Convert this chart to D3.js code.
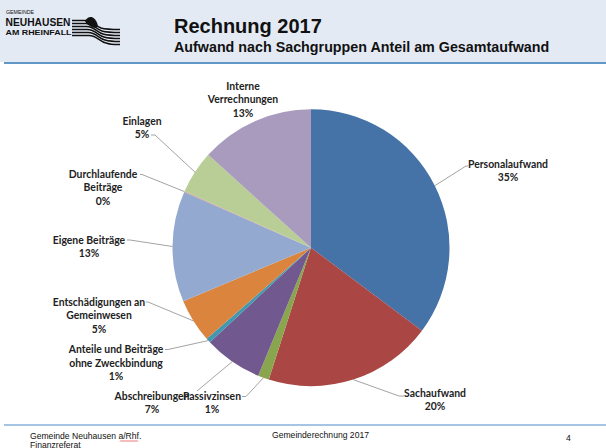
<!DOCTYPE html>
<html><head><meta charset="utf-8">
<script src="https://cdn.jsdelivr.net/npm/d3@7"></script>
<style>body{margin:0;background:#fff;overflow:hidden}</style>
</head><body>
<svg id="c" width="606" height="448"></svg>
<script>
// ---- data ----
const categories = ["Personalaufwand","Sachaufwand","Passivzinsen","Abschreibungen","Anteile und Beiträge ohne Zweckbindung","Entschädigungen an Gemeinwesen","Eigene Beiträge","Durchlaufende Beiträge","Einlagen","Interne Verrechnungen"];
const shares = [35.2,19.7,1.3,6.8,0.55,5.1,12.9,0.1,5.0,13.3];
const labelLines = [["Personalaufwand"],["Sachaufwand"],["Passivzinsen"],["Abschreibungen"],["Anteile und Beiträge","ohne Zweckbindung"],["Entschädigungen an","Gemeinwesen"],["Eigene Beiträge"],["Durchlaufende","Beiträge"],["Einlagen"],["Interne","Verrechnungen"]];
const colors = ["#4572A7","#AA4643","#89A54E","#71588F","#4198AF","#DB843D","#93A9CF","#D19392","#B9CD96","#A99BBD"];
const titleText = "Rechnung 2017";
const subtitleText = "Aufwand nach Sachgruppen Anteil am Gesamtaufwand";
const footerLeft = ["Gemeinde Neuhausen a/Rhf.","Finanzreferat"];
const footerMid = "Gemeinderechnung 2017";
const pageNo = "4";

// ---- layout (label placement, not data) ----
const labelLayout = [
  {x:508, y:164, ex:466, ey:166, tx:468},
  {x:435, y:393, ex:399, ey:396, tx:404},
  {x:212, y:396, ex:246, ey:396.5, tx:242},
  {x:152, y:396, ex:197, ey:391, tx:197},
  {x:116, y:349.5, ex:168, ey:349.5, tx:165},
  {x:99,  y:302, ex:148, ey:302, tx:146},
  {x:89,  y:240, ex:130, ey:240, tx:127},
  {x:103, y:174, ex:142, ey:174.5, tx:140},
  {x:142, y:121, ex:155, ey:135, tx:151},
  {x:243, y:86, ex:null}
];

const svg = d3.select("#c");
const W = 606, H = 448;

// header
svg.append("rect").attr("x",0).attr("y",0).attr("width",W).attr("height",62).attr("fill","#E4EAF4");
svg.append("line").attr("x1",4).attr("x2",W).attr("y1",63).attr("y2",63).attr("stroke","#2C74B5").attr("stroke-width",1.6);

// logo
const logo = svg.append("g");
const lf = "Liberation Sans, Arial";
logo.append("text").attr("x",6).attr("y",14).text("GEMEINDE")
  .attr("font-family",lf).attr("font-size",4.6).attr("fill","#111")
  .attr("textLength",28).attr("lengthAdjust","spacingAndGlyphs");
logo.append("text").attr("x",5.5).attr("y",26).text("NEUHAUSEN")
  .attr("font-family",lf).attr("font-weight","bold").attr("font-size",10.4).attr("fill","#111")
  .attr("textLength",65).attr("lengthAdjust","spacingAndGlyphs");
logo.append("text").attr("x",5.5).attr("y",34.5).text("AM RHEINFALL")
  .attr("font-family",lf).attr("font-weight","bold").attr("font-size",7.8).attr("fill","#111")
  .attr("textLength",66).attr("lengthAdjust","spacingAndGlyphs");
const stripeYs = [20.5,23.5,26.5,29.5,32.5,35.5];
stripeYs.forEach((y0,i)=>{
  const p = d3.path();
  p.moveTo(72,y0);
  p.lineTo(85+i*0.8,y0);
  p.bezierCurveTo(92+i,y0, 95+i,y0+5+i*0.3, 101+i,y0+7.5);
  p.bezierCurveTo(106+i,y0+9, 111,y0+9, 120,y0+9);
  logo.append("path").attr("d",p.toString()).attr("fill","none").attr("stroke","#111").attr("stroke-width",1.5);
});
logo.append("path").attr("d","M85,21 C87,18 89,16.5 91.5,17 C94,17.5 96,20 97.5,24 C98.5,27 96,28.5 93,27.5 C89,26 86,24 85,21 Z").attr("fill","#111");

// titles
svg.append("text").attr("x",174).attr("y",33).text(titleText)
  .attr("font-family",lf).attr("font-weight","bold").attr("font-size",20).attr("fill","#111");
svg.append("text").attr("x",174).attr("y",52).text(subtitleText)
  .attr("font-family",lf).attr("font-weight","bold").attr("font-size",14.3).attr("fill","#111");

// pie
const cx = 311, cy = 247.7, R = 138.5;
const total = d3.sum(shares);
const data = categories.map((c,i)=>({name:c, value:shares[i], i}));
const pie = d3.pie().value(d=>d.value).sort(null).startAngle(0).endAngle(2*Math.PI);
const arcs = pie(data);
const arc = d3.arc().innerRadius(0).outerRadius(R);
const edge = d3.arc().innerRadius(R).outerRadius(R);
const color = d3.scaleOrdinal().domain(categories).range(colors);
const g = svg.append("g").attr("transform",`translate(${cx},${cy})`);
g.selectAll("path.s").data(arcs).join("path").attr("class","s")
  .attr("d",arc).attr("fill",d=>color(d.data.name));

// leader lines
const fmt = d3.format(".0%");
const lg = svg.append("g");
arcs.forEach((a,i)=>{
  const L = labelLayout[i];
  if (L.ex === null) return;
  const [px,py] = edge.centroid(a);
  const pts = [[cx+px,cy+py],[L.ex,L.ey],[L.tx,L.ey]];
  lg.append("path").attr("d",d3.line()(pts)).attr("fill","none").attr("stroke","#8C8C8C").attr("stroke-width",0.8);
});

// labels
arcs.forEach((a,i)=>{
  const L = labelLayout[i];
  const lines = labelLines[i].concat([fmt(a.data.value/total)]);
  const t = svg.append("text").attr("text-anchor","middle")
    .attr("font-family","Lato, 'Open Sans', sans-serif").attr("font-weight","bold").attr("font-size",10.4).attr("fill","#222");
  lines.forEach((s,k)=>{
    t.append("tspan").attr("x",L.x).attr("y",L.y + k*13.5).attr("dy","0.35em").text(s);
  });
});

// footer
svg.append("line").attr("x1",4).attr("x2",W).attr("y1",425).attr("y2",425).attr("stroke","#4A8BC9").attr("stroke-width",1);
svg.append("text").attr("x",30).attr("y",439).text(footerLeft[0]).attr("font-family",lf).attr("font-size",8.6).attr("fill","#111");
svg.append("text").attr("x",30).attr("y",448).text(footerLeft[1]).attr("font-family",lf).attr("font-size",8.6).attr("fill","#111");
svg.append("text").attr("x",272).attr("y",438).text(footerMid).attr("font-family",lf).attr("font-size",8.6).attr("fill","#111");
svg.append("text").attr("x",566).attr("y",441).text(pageNo).attr("font-family",lf).attr("font-size",8.6).attr("fill","#111");
// spell-check squiggle under "Rhf."
const sq = d3.path(); sq.moveTo(120,441.5);
for (let x=120; x<137; x+=2){ sq.lineTo(x+1,440.5); sq.lineTo(x+2,441.5); }
svg.append("path").attr("d",sq.toString()).attr("fill","none").attr("stroke","#E03030").attr("stroke-width",0.7);
</script>
</body></html>
